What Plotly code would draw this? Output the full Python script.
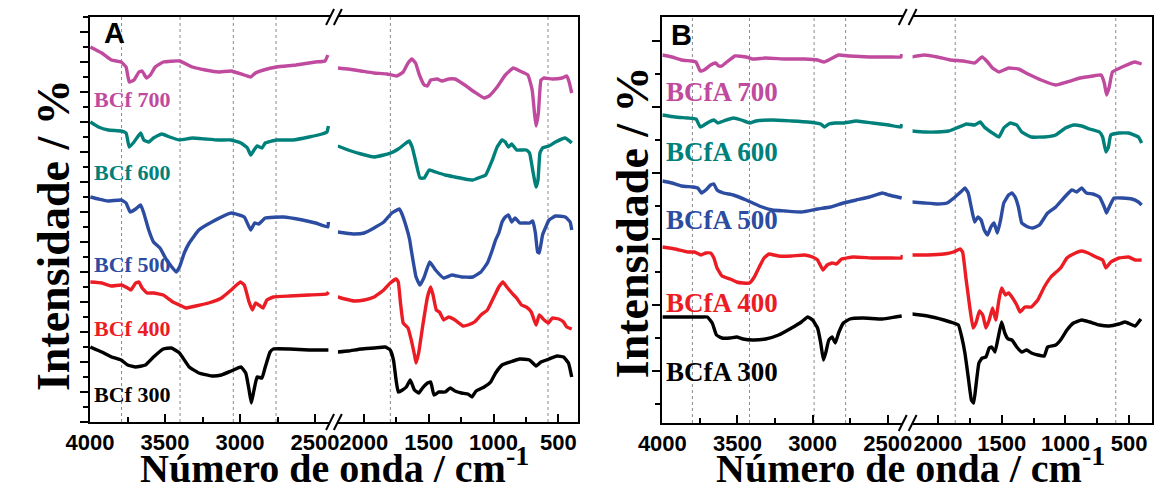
import plotly.graph_objects as go

W, H = 1163, 489

# ---------------- Panel A : BCf series (wavenumber / cm-1, intensity a.u.) ----------------
bcf700_wn_high = [3998, 3922, 3857, 3793, 3760, 3739, 3707, 3674, 3653, 3624, 3598, 3566, 3512, 3404,
                  3318, 3231, 3145, 3059, 2972, 2929, 2897, 2843, 2756, 2627, 2497, 2433, 2415]
bcf700_t_high = [37.5, 36.9, 36.2, 36.0, 35.5, 34.0, 34.2, 35.0, 35.1, 34.4, 34.7, 35.5, 36.0, 36.1,
                 35.5, 35.2, 35.0, 35.1, 34.7, 34.5, 34.9, 35.2, 35.5, 35.7, 36.0, 36.1, 36.7]
bcf700_wn_low = [2201, 2121, 2021, 1921, 1822, 1747, 1696, 1659, 1629, 1601, 1571, 1534, 1509, 1484,
                 1434, 1397, 1346, 1297, 1222, 1147, 1072, 1034, 972, 909, 847, 797, 735, 702, 684,
                 672, 654, 634, 609, 547, 472, 435, 417, 397]
bcf700_t_low = [35.4, 35.3, 35.1, 34.9, 34.8, 34.6, 35.0, 35.9, 36.3, 35.9, 34.7, 33.7, 33.6, 34.2,
                34.3, 34.1, 34.3, 34.3, 33.7, 33.0, 32.4, 32.6, 33.5, 34.7, 35.4, 35.1, 34.7, 33.2, 30.9,
                29.6, 30.9, 34.2, 34.4, 34.3, 34.4, 34.6, 34.0, 32.9]

bcf600_wn_high = [3998, 3944, 3879, 3793, 3760, 3739, 3707, 3663, 3642, 3609, 3577, 3523, 3469, 3404,
                  3318, 3231, 3145, 3059, 2994, 2951, 2929, 2907, 2886, 2854, 2832, 2756, 2648, 2540,
                  2454, 2421, 2411]
bcf600_t_high = [30.0, 29.5, 29.2, 29.1, 28.9, 27.5, 28.0, 28.9, 28.2, 28.0, 28.4, 28.8, 28.5, 28.2,
                 28.4, 28.3, 28.2, 28.2, 27.9, 27.4, 26.7, 27.2, 27.6, 27.4, 27.9, 28.2, 28.2, 28.5,
                 28.8, 29.0, 29.6]
bcf600_wn_low = [2201, 2121, 2021, 1921, 1846, 1792, 1734, 1684, 1651, 1627, 1597, 1567, 1534, 1496,
                 1447, 1372, 1297, 1222, 1159, 1097, 1060, 1009, 972, 934, 909, 885, 860, 822, 785,
                 747, 722, 702, 684, 672, 657, 642, 622, 572, 522, 447, 397]
bcf600_t_low = [27.6, 27.2, 26.8, 26.5, 26.7, 26.9, 27.3, 27.8, 28.1, 27.5, 25.9, 24.4, 24.4, 25.2,
                25.0, 24.7, 24.5, 24.3, 24.2, 24.5, 24.7, 26.2, 27.5, 28.2, 28.0, 27.5, 27.8, 27.2, 27.2,
                27.2, 26.9, 25.5, 24.2, 23.5, 24.2, 26.9, 27.4, 27.6, 28.0, 28.4, 27.9]

bcf500_wn_high = [3998, 3944, 3879, 3793, 3760, 3733, 3696, 3663, 3642, 3609, 3577, 3534, 3490, 3426,
                  3404, 3372, 3339, 3275, 3188, 3059, 2972, 2929, 2903, 2875, 2832, 2713, 2584, 2497,
                  2415, 2411]
bcf500_t_high = [22.5, 22.3, 22.1, 22.2, 21.9, 21.0, 21.3, 21.7, 20.9, 19.2, 18.0, 17.4, 16.2, 15.0,
                 15.5, 16.9, 17.9, 19.2, 20.0, 20.9, 20.5, 19.2, 19.9, 19.8, 20.4, 20.5, 20.2, 19.9,
                 19.5, 20.0]
bcf500_wn_low = [2201, 2146, 2071, 1996, 1921, 1846, 1784, 1726, 1709, 1672, 1646, 1634, 1621, 1597,
                 1567, 1534, 1492, 1447, 1384, 1322, 1247, 1159, 1097, 1047, 1009, 984, 959, 934, 909,
                 885, 859, 834, 797, 759, 722, 697, 677, 660, 647, 622, 597, 572, 522, 447, 409, 397]
bcf500_t_low = [19.0, 18.9, 18.8, 18.9, 19.4, 20.0, 20.9, 21.3, 20.9, 19.5, 18.2, 17.2, 16.2, 14.5,
                13.7, 14.5, 16.0, 15.2, 14.4, 14.7, 14.5, 14.5, 15.0, 15.9, 17.2, 18.2, 18.9, 20.0, 20.5,
                20.7, 20.0, 20.4, 19.9, 19.9, 19.9, 20.1, 18.9, 17.0, 16.9, 18.7, 19.5, 20.2, 20.6, 20.5,
                20.0, 19.2]

bcf400_wn_high = [3998, 3922, 3857, 3793, 3749, 3728, 3696, 3674, 3653, 3620, 3577, 3512, 3448, 3404,
                  3361, 3296, 3210, 3124, 3059, 2998, 2972, 2940, 2918, 2897, 2875, 2847, 2821, 2778,
                  2670, 2540, 2421, 2411]
bcf400_t_high = [14.0, 13.9, 13.6, 13.7, 13.4, 13.2, 13.9, 14.0, 13.4, 12.9, 12.9, 12.7, 12.0, 11.7,
                 11.4, 11.6, 11.9, 12.4, 13.2, 14.0, 13.7, 12.0, 11.2, 11.9, 11.7, 11.4, 12.2, 12.5,
                 12.6, 12.7, 12.8, 13.0]
bcf400_wn_low = [2201, 2146, 2071, 1996, 1921, 1846, 1796, 1751, 1734, 1717, 1696, 1659, 1634, 1609,
                 1597, 1577, 1547, 1509, 1484, 1466, 1441, 1417, 1384, 1346, 1297, 1234, 1197, 1147,
                 1097, 1047, 997, 959, 927, 897, 859, 822, 784, 747, 709, 672, 647, 609, 577, 547, 497,
                 460, 435, 397]
bcf400_t_low = [12.5, 12.3, 12.1, 12.2, 12.5, 13.2, 13.9, 14.3, 14.0, 11.9, 9.9, 9.4, 8.2, 6.7, 5.9,
                6.9, 9.5, 12.5, 13.5, 12.7, 11.2, 11.0, 10.2, 10.5, 10.2, 9.6, 9.7, 10.0, 10.7, 11.2,
                12.5, 13.5, 14.0, 13.5, 12.9, 12.4, 11.7, 11.5, 11.0, 9.7, 10.7, 10.2, 9.9, 10.4, 10.3,
                10.0, 9.5, 9.3]

bcf300_wn_high = [3998, 3922, 3857, 3793, 3749, 3696, 3631, 3577, 3512, 3458, 3404, 3339, 3275, 3188,
                  3124, 3059, 2994, 2962, 2940, 2925, 2907, 2886, 2854, 2832, 2800, 2778, 2670, 2540,
                  2411]
bcf300_t_high = [7.5, 7.0, 6.5, 6.2, 5.7, 5.5, 5.7, 6.5, 7.3, 7.4, 6.9, 5.5, 4.9, 4.6, 4.7, 5.1, 5.5,
                 4.9, 3.2, 1.9, 3.2, 4.5, 4.4, 5.5, 7.0, 7.3, 7.3, 7.2, 7.2]
bcf300_wn_low = [2201, 2121, 2021, 1921, 1834, 1796, 1771, 1751, 1734, 1702, 1672, 1642, 1609, 1577,
                 1547, 1509, 1484, 1459, 1421, 1372, 1334, 1297, 1247, 1197, 1166, 1134, 1072, 1022,
                 984, 934, 872, 797, 722, 672, 634, 572, 510, 460, 422, 397]
bcf300_t_low = [7.0, 7.1, 7.3, 7.4, 7.5, 7.2, 6.2, 4.2, 3.0, 3.2, 3.5, 4.2, 3.2, 2.9, 3.4, 3.9, 4.0,
                2.7, 3.0, 3.0, 3.4, 3.1, 2.9, 2.8, 2.5, 3.1, 3.5, 4.0, 4.9, 5.7, 6.0, 6.3, 6.2, 5.6,
                6.0, 6.3, 6.6, 6.5, 5.9, 4.5]

# ---------------- Panel B : BCfA series ----------------
bcfa700_wn_high = [4000, 3937, 3873, 3808, 3776, 3748, 3722, 3679, 3646, 3625, 3604, 3571, 3517, 3442,
                   3398, 3312, 3183, 3054, 2967, 2924, 2881, 2827, 2752, 2622, 2493, 2411, 2407]
bcfa700_t_high = [36.8, 36.6, 36.3, 36.2, 36.1, 35.2, 35.3, 35.8, 36.0, 35.7, 35.7, 36.1, 36.7, 36.6,
                  36.4, 36.5, 36.4, 36.4, 36.3, 36.1, 36.4, 36.8, 36.7, 36.6, 36.6, 36.6, 36.9]
bcfa700_wn_low = [2209, 2107, 2005, 1904, 1801, 1713, 1654, 1611, 1572, 1522, 1446, 1369, 1293, 1191,
                  1076, 988, 885, 784, 720, 695, 677, 656, 631, 555, 453, 427, 402]
bcfa700_t_low = [36.6, 36.8, 36.6, 36.3, 36.2, 36.0, 36.6, 36.1, 35.5, 35.1, 35.5, 35.4, 34.9, 34.3,
                 33.8, 34.1, 34.5, 34.7, 34.8, 34.0, 32.8, 33.6, 35.1, 35.6, 36.1, 36.0, 35.9]

bcfa600_wn_high = [4000, 3916, 3830, 3776, 3748, 3722, 3690, 3657, 3631, 3593, 3528, 3474, 3420, 3377,
                   3269, 3140, 3032, 2946, 2920, 2892, 2849, 2795, 2709, 2601, 2493, 2411, 2407]
bcfa600_t_high = [30.8, 30.6, 30.5, 30.4, 29.6, 29.8, 30.1, 30.3, 30.0, 30.2, 30.5, 30.3, 30.0, 30.2,
                  30.3, 30.2, 30.1, 29.9, 29.6, 29.9, 30.0, 30.0, 30.2, 30.0, 29.8, 29.6, 29.9]
bcfa600_wn_low = [2209, 2107, 2005, 1916, 1853, 1776, 1713, 1669, 1637, 1585, 1522, 1484, 1433, 1382,
                  1343, 1267, 1166, 1076, 1000, 937, 873, 809, 733, 708, 682, 662, 644, 580, 504, 427, 402]
bcfa600_t_low = [29.2, 29.1, 29.1, 29.2, 29.5, 29.9, 29.8, 30.1, 29.6, 29.1, 28.6, 29.5, 30.0, 29.8,
                 29.1, 28.6, 28.6, 28.8, 29.5, 29.8, 29.7, 29.4, 29.1, 28.6, 27.1, 27.6, 28.8, 29.0,
                 29.0, 28.6, 28.0]

bcfa500_wn_high = [4000, 3937, 3873, 3798, 3765, 3739, 3711, 3679, 3657, 3636, 3593, 3528, 3442, 3355,
                   3269, 3183, 3075, 2967, 2881, 2795, 2709, 2622, 2536, 2493, 2407]
bcfa500_t_high = [24.2, 24.0, 23.7, 23.6, 23.5, 23.0, 23.3, 23.8, 23.9, 23.3, 23.0, 22.8, 22.3, 21.7,
                  21.3, 21.2, 21.1, 21.4, 21.6, 22.0, 22.3, 22.6, 23.0, 22.8, 22.5]
bcfa500_wn_low = [2209, 2107, 2005, 1929, 1866, 1814, 1789, 1763, 1738, 1713, 1687, 1662, 1637, 1611,
                  1585, 1560, 1534, 1509, 1484, 1446, 1420, 1395, 1369, 1343, 1293, 1255, 1204, 1140,
                  1076, 1013, 950, 911, 873, 835, 784, 733, 695, 677, 656, 618, 555, 478, 427, 402]
bcfa500_t_low = [22.1, 22.0, 21.9, 22.0, 22.6, 23.2, 23.5, 23.0, 21.5, 20.1, 20.6, 20.3, 19.3, 18.8,
                 19.6, 20.0, 19.0, 20.3, 22.0, 22.8, 23.0, 22.6, 21.6, 20.0, 19.6, 19.5, 19.8, 21.0,
                 21.6, 22.5, 23.3, 23.1, 23.5, 23.0, 22.9, 22.6, 21.6, 21.0, 21.6, 22.5, 22.5, 22.4,
                 22.1, 21.8]

bcfa400_wn_high = [4000, 3916, 3830, 3787, 3743, 3711, 3679, 3657, 3636, 3603, 3549, 3506, 3463, 3420,
                   3388, 3355, 3323, 3291, 3226, 3140, 3054, 3000, 2967, 2931, 2903, 2870, 2842, 2806,
                   2730, 2601, 2493, 2407, 2403]
bcfa400_t_high = [17.6, 17.4, 17.1, 17.1, 16.8, 17.0, 17.0, 16.5, 15.5, 14.7, 14.4, 14.1, 14.0, 14.0,
                  14.6, 15.6, 16.5, 16.9, 16.7, 16.7, 16.8, 16.6, 16.3, 15.3, 15.8, 16.0, 15.9, 16.4,
                  16.6, 16.5, 16.5, 16.5, 16.8]
bcfa400_wn_low = [2209, 2082, 1954, 1878, 1827, 1807, 1782, 1751, 1725, 1700, 1675, 1649, 1624, 1598,
                  1572, 1547, 1522, 1501, 1471, 1446, 1420, 1382, 1356, 1318, 1267, 1217, 1166, 1114,
                  1038, 988, 937, 873, 822, 759, 708, 682, 644, 580, 504, 453, 402]
bcfa400_t_low = [16.8, 16.8, 16.9, 17.1, 17.4, 17.1, 14.6, 11.6, 9.5, 10.1, 11.2, 10.8, 9.5, 10.3,
                 11.5, 10.3, 12.3, 13.5, 12.8, 13.0, 12.6, 11.8, 11.1, 11.6, 11.6, 12.3, 13.6, 14.6,
                 15.5, 16.5, 16.9, 17.2, 17.0, 16.6, 16.3, 15.5, 16.1, 16.5, 16.6, 16.3, 16.3]

bcfa300_wn_high = [4000, 3916, 3830, 3743, 3701, 3668, 3640, 3603, 3549, 3506, 3463, 3398, 3312, 3226,
                   3140, 3075, 3032, 3000, 2967, 2946, 2928, 2913, 2892, 2870, 2849, 2827, 2795, 2752,
                   2666, 2536, 2450, 2407]
bcfa300_t_high = [10.6, 10.6, 10.6, 10.6, 10.6, 10.0, 8.8, 8.5, 8.5, 8.6, 8.4, 8.3, 8.4, 8.8, 9.5,
                  10.1, 10.6, 10.3, 9.5, 8.0, 6.3, 7.0, 8.3, 8.6, 8.0, 9.0, 10.0, 10.4, 10.5, 10.4,
                  10.6, 10.7]
bcfa300_wn_low = [2209, 2082, 1954, 1878, 1840, 1814, 1789, 1763, 1738, 1720, 1700, 1679, 1654, 1624,
                  1598, 1578, 1553, 1527, 1501, 1476, 1450, 1420, 1382, 1343, 1305, 1267, 1217, 1166,
                  1140, 1076, 1038, 988, 937, 873, 809, 733, 656, 580, 530, 453, 408]
bcfa300_t_low = [10.9, 10.7, 10.3, 10.0, 9.8, 8.6, 7.0, 4.6, 2.3, 2.0, 4.0, 6.0, 6.5, 6.6, 7.5, 7.6,
                 7.1, 8.6, 10.1, 9.0, 8.4, 8.3, 7.6, 7.1, 7.3, 7.0, 6.8, 6.7, 7.6, 7.8, 8.3, 9.3, 10.0,
                 10.3, 10.1, 9.8, 9.7, 9.9, 10.1, 9.7, 10.4]

# reference wavenumbers marked with dotted vertical lines
marks_a = [3790, 3400, 3045, 2760, 1795, 580]
marks_b = [3800, 3420, 2990, 2780, 1865, 605]

MAGENTA, TEAL, BLUE, RED, BLACK = "#BF4A9E", "#00807A", "#2B4CA0", "#EC1C24", "#000000"

panel_a = [
    ("BCf 700", MAGENTA, bcf700_wn_high, bcf700_t_high, bcf700_wn_low, bcf700_t_low),
    ("BCf 600", TEAL, bcf600_wn_high, bcf600_t_high, bcf600_wn_low, bcf600_t_low),
    ("BCf 500", BLUE, bcf500_wn_high, bcf500_t_high, bcf500_wn_low, bcf500_t_low),
    ("BCf 400", RED, bcf400_wn_high, bcf400_t_high, bcf400_wn_low, bcf400_t_low),
    ("BCf 300", BLACK, bcf300_wn_high, bcf300_t_high, bcf300_wn_low, bcf300_t_low),
]
panel_b = [
    ("BCfA 700", MAGENTA, bcfa700_wn_high, bcfa700_t_high, bcfa700_wn_low, bcfa700_t_low),
    ("BCfA 600", TEAL, bcfa600_wn_high, bcfa600_t_high, bcfa600_wn_low, bcfa600_t_low),
    ("BCfA 500", BLUE, bcfa500_wn_high, bcfa500_t_high, bcfa500_wn_low, bcfa500_t_low),
    ("BCfA 400", RED, bcfa400_wn_high, bcfa400_t_high, bcfa400_wn_low, bcfa400_t_low),
    ("BCfA 300", BLACK, bcfa300_wn_high, bcfa300_t_high, bcfa300_wn_low, bcfa300_t_low),
]

# label heights (intensity units) for the series names
label_y_a = [32.2, 24.9, 15.8, 9.4, 2.8]
label_y_b = [33.1, 27.1, 20.3, 12.0, 5.1]

fig = go.Figure()


def spectrum(x, y, xa, ya, col, name):
    return go.Scatter(x=x, y=y, xaxis=xa, yaxis=ya, mode="lines",
                      line=dict(color=col, width=3.4, shape="spline", smoothing=0.35),
                      name=name, showlegend=False)


for (name, col, wh, th, wl, tl) in panel_a:
    fig.add_trace(spectrum(wh, th, "x", "y", col, name))
    fig.add_trace(spectrum(wl, tl, "x2", "y2", col, name))
for (name, col, wh, th, wl, tl) in panel_b:
    fig.add_trace(spectrum(wh, th, "x3", "y3", col, name))
    fig.add_trace(spectrum(wl, tl, "x4", "y4", col, name))


def px_x(p):
    return p / W


def px_y(p):
    return 1 - p / H


tickfont = dict(family="Liberation Sans, Arial", size=22, color="black", weight="bold")


def xaxis(domain, rng, anchor):
    return dict(domain=domain, range=rng, anchor=anchor, showline=True, linewidth=2,
                linecolor="black", mirror=True, ticks="inside", ticklen=8, tickwidth=2,
                tickcolor="black", tick0=0, dtick=500,
                minor=dict(ticks="inside", ticklen=5, tickwidth=2, tickcolor="black",
                           tick0=0, dtick=250),
                showgrid=False, zeroline=False, tickfont=tickfont)


def yaxis_left(domain, rng, anchor, t0, dt):
    return dict(domain=domain, range=rng, anchor=anchor, showline=True, linewidth=2,
                linecolor="black", ticks="outside", ticklen=8, tickwidth=2, tickcolor="black",
                tick0=t0, dtick=2 * dt,
                minor=dict(ticks="outside", ticklen=5, tickwidth=2, tickcolor="black",
                           tick0=t0 - dt, dtick=dt),
                showticklabels=False, showgrid=False, zeroline=False)


def yaxis_right(domain, rng, anchor):
    return dict(domain=domain, range=rng, anchor=anchor, side="right", showline=True,
                linewidth=2, linecolor="black", ticks="", showticklabels=False,
                showgrid=False, zeroline=False)


ydom_a = [px_y(422), px_y(17)]
ydom_b = [px_y(423), px_y(17)]

fig.update_layout(
    width=W, height=H,
    margin=dict(l=0, r=0, t=0, b=0),
    paper_bgcolor="white", plot_bgcolor="white",
    showlegend=False,
    xaxis=xaxis([px_x(68), px_x(315)], [4000, 2400], "y"),
    xaxis2=xaxis([px_x(323), px_x(570)], [2200, 350], "y2"),
    xaxis3=xaxis([px_x(657), px_x(904.4)], [4000, 2400], "y3"),
    xaxis4=xaxis([px_x(914.5), px_x(1161)], [2200, 320], "y4"),
    yaxis=yaxis_left(ydom_a, [0, 40.5], "x", 3.0, 1.5),
    yaxis2=yaxis_right(ydom_a, [0, 40.5], "x2"),
    yaxis3=yaxis_left(ydom_b, [0, 40.6], "x3", 5.25, 3.3),
    yaxis4=yaxis_right(ydom_b, [0, 40.6], "x4"),
)

shapes = []
# dotted reference lines
for wn in marks_a:
    xr = "x" if wn > 2300 else "x2"
    shapes.append(dict(type="line", xref=xr, yref="y domain", x0=wn, x1=wn, y0=0, y1=1,
                       layer="below", line=dict(color="#8a8a8a", width=1, dash="dot")))
for wn in marks_b:
    xr = "x3" if wn > 2300 else "x4"
    shapes.append(dict(type="line", xref=xr, yref="y3 domain", x0=wn, x1=wn, y0=0, y1=1,
                       layer="below", line=dict(color="#8a8a8a", width=1, dash="dot")))
# axis break marks "//" on top and bottom frame lines
for xr, xa, yr in [("x domain", 1, "y domain"), ("x2 domain", 0, "y2 domain"),
                   ("x3 domain", 1, "y3 domain"), ("x4 domain", 0, "y4 domain")]:
    for ya in (0, 1):
        shapes.append(dict(type="line", xref=xr, yref=yr, xsizemode="pixel", ysizemode="pixel",
                           xanchor=xa, yanchor=ya, x0=-4, x1=4, y0=-8, y1=8,
                           line=dict(color="black", width=2)))
fig.update_layout(shapes=shapes)

ann = []
serif = "Liberation Serif, Times New Roman, serif"
for (name, col, *_), ly in zip(panel_a, label_y_a):
    ann.append(dict(text=f"<b>{name}</b>", xref="x", yref="y", x=3985, y=ly, xanchor="left",
                    yanchor="middle", showarrow=False, font=dict(family=serif, size=22, color=col)))
for (name, col, *_), ly in zip(panel_b, label_y_b):
    ann.append(dict(text=f"<b>{name}</b>", xref="x3", yref="y3", x=3990, y=ly, xanchor="left",
                    yanchor="middle", showarrow=False, font=dict(family=serif, size=27, color=col)))

for letter, xp, yp in [("A", 93, 33), ("B", 677, 35)]:
    ann.append(dict(text=f"<b>{letter}</b>", xref="paper", yref="paper", x=px_x(xp), y=px_y(yp),
                    xanchor="center", yanchor="middle", showarrow=False,
                    font=dict(family="Liberation Sans, Arial", size=29, color="black")))

for xp, yp in [(31, 235), (626, 222)]:
    ann.append(dict(text="<b>Intensidade / %</b>", xref="paper", yref="paper", x=px_x(xp),
                    y=px_y(yp), xanchor="center", yanchor="middle", textangle=-90, showarrow=False,
                    font=dict(family=serif, size=46, color="black")))
for xp, yp in [(320, 465), (912, 465)]:
    ann.append(dict(text="<b>Número de onda / cm<sup>-1</sup></b>", xref="paper", yref="paper",
                    x=px_x(xp), y=px_y(yp), xanchor="center", yanchor="middle", showarrow=False,
                    font=dict(family=serif, size=40, color="black")))
fig.update_layout(annotations=ann)

fig.write_html("out.html")
